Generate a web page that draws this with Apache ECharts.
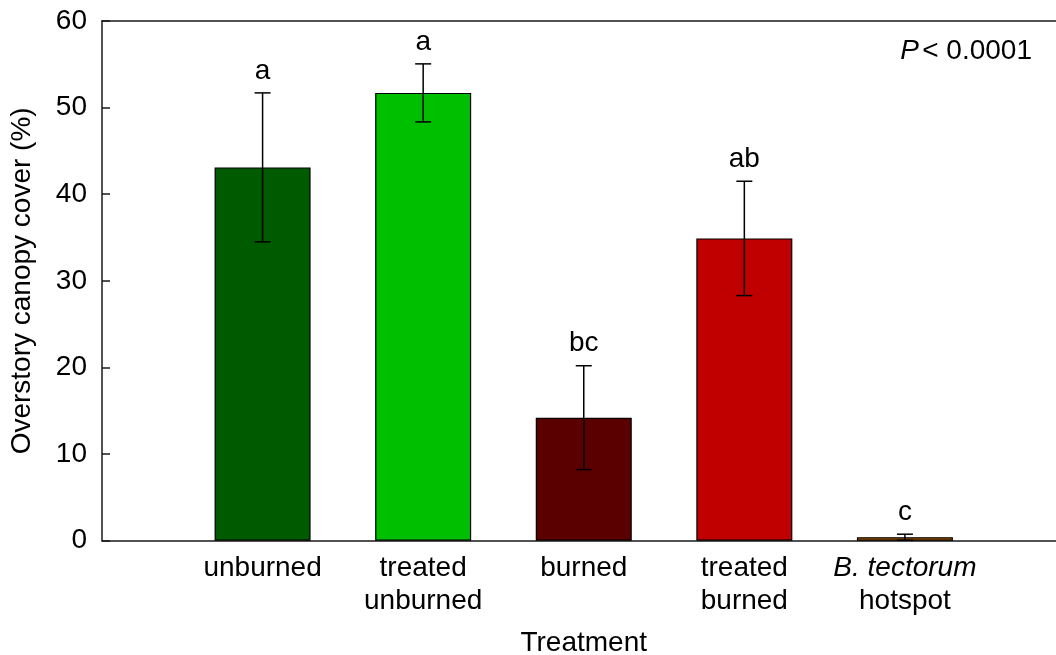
<!DOCTYPE html>
<html>
<head>
<meta charset="utf-8">
<script src="https://cdn.jsdelivr.net/npm/echarts@6/dist/echarts.min.js"></script>
<style>
  html, body { margin: 0; padding: 0; background: #fff; }
  #chart { width: 1056px; height: 655px; }
</style>
</head>
<body>
<div id="chart"></div>
<script>
// Overstory canopy cover by treatment (mean ± SE) with group letters
const categories = ['unburned', 'treated\nunburned', 'burned', 'treated\nburned', 'B. tectorum\nhotspot'];
const positions = [1, 2, 3, 4, 5];
const means = [43.1, 51.7, 14.2, 34.9, 0.4];
const errors = [8.6, 3.35, 6.0, 6.6, 0.35];
const letters = ['a', 'a', 'bc', 'ab', 'c'];
const colors = ['#005A00', '#00BE00', '#5A0000', '#C00000', '#C86400'];
const yTicks = [0, 10, 20, 30, 40, 50, 60];
const pValueText = 'P < 0.0001';

const FONT = '"Liberation Sans", Arial, sans-serif';
const FS = 28;
const AXIS_COLOR = '#1a1a1a';

const chart = echarts.init(document.getElementById('chart'), null, { renderer: 'canvas' });

const barData = positions.map((x, i) => ({
  value: [x, means[i]],
  itemStyle: { color: colors[i] }
}));
const errData = positions.map((x, i) => [x, means[i] - errors[i], means[i] + errors[i], i]);

function labelFormatter(v) {
  const idx = positions.indexOf(v);
  if (idx < 0) return '';
  const name = categories[idx];
  if (name.startsWith('B. tectorum')) {
    return '{it|B. tectorum}\n{n|hotspot}';
  }
  return name.split('\n').map(s => '{n|' + s + '}').join('\n');
}

const pParts = pValueText.split(' ');

chart.setOption({
  animation: false,
  backgroundColor: '#fff',
  textStyle: { fontFamily: FONT },
  grid: {
    left: 102, right: -9.5, top: 21, bottom: 114.3,
    containLabel: false,
    outerBoundsMode: 'none'
  },
  xAxis: [{
    type: 'value',
    min: 0, max: 6, interval: 1,
    position: 'bottom',
    axisLine: { show: true, lineStyle: { color: AXIS_COLOR, width: 1.5 } },
    axisTick: { show: false },
    splitLine: { show: false },
    axisLabel: {
      show: true,
      margin: 11,
      formatter: labelFormatter,
      showMinLabel: false,
      showMaxLabel: false,
      rich: {
        n: { fontSize: FS, fontFamily: FONT, color: '#000', lineHeight: 33 },
        it: { fontSize: FS, fontFamily: FONT, color: '#000', fontStyle: 'italic', lineHeight: 33 }
      }
    },
    name: 'Treatment',
    nameLocation: 'middle',
    nameGap: 89,
    nameTextStyle: { fontSize: FS, fontFamily: FONT, color: '#000' }
  }, {
    type: 'value',
    min: 0, max: 6,
    position: 'top',
    axisLine: { show: true, lineStyle: { color: AXIS_COLOR, width: 1.5 } },
    axisTick: { show: false },
    axisLabel: { show: false },
    splitLine: { show: false }
  }],
  yAxis: {
    type: 'value',
    min: yTicks[0], max: yTicks[yTicks.length - 1], interval: 10,
    axisLine: { show: true, lineStyle: { color: AXIS_COLOR, width: 1.5 } },
    axisTick: { show: true, inside: true, length: 8, lineStyle: { color: AXIS_COLOR, width: 1.5 } },
    splitLine: { show: false },
    axisLabel: { fontSize: FS, fontFamily: FONT, color: '#000', margin: 15 },
    name: 'Overstory canopy cover (%)',
    nameLocation: 'middle',
    nameGap: 66,
    nameTextStyle: { fontSize: FS, fontFamily: FONT, color: '#000' }
  },
  series: [{
    type: 'bar',
    xAxisIndex: 0,
    barWidth: 96,
    data: barData,
    itemStyle: { borderColor: '#000', borderWidth: 1.2 }
  }, {
    type: 'custom',
    xAxisIndex: 0,
    data: errData,
    z: 10,
    renderItem: function (params, api) {
      const x = api.value(0);
      const lo = api.coord([x, api.value(1)]);
      const hi = api.coord([x, api.value(2)]);
      const cap = 8;
      const style = { stroke: '#000', lineWidth: 1.5 };
      const idx = api.value(3);
      return {
        type: 'group',
        children: [
          { type: 'line', shape: { x1: hi[0], y1: hi[1], x2: lo[0], y2: lo[1] }, style: style },
          { type: 'line', shape: { x1: hi[0] - cap, y1: hi[1], x2: hi[0] + cap, y2: hi[1] }, style: style },
          { type: 'line', shape: { x1: lo[0] - cap, y1: lo[1], x2: lo[0] + cap, y2: lo[1] }, style: style },
          {
            type: 'text',
            x: hi[0], y: hi[1] - 8,
            style: {
              text: letters[idx],
              fontSize: FS, fontFamily: FONT, fill: '#000',
              textAlign: 'center', textVerticalAlign: 'bottom'
            }
          }
        ]
      };
    }
  }],
  graphic: [{
    type: 'text',
    right: 24,
    top: 37,
    style: {
      text: '{it|' + pParts[0] + '} {n|' + pParts.slice(1).join(' ') + '}',
      rich: {
        it: { fontSize: FS, fontFamily: FONT, fontStyle: 'italic', fill: '#000' },
        n: { fontSize: FS, fontFamily: FONT, fill: '#000' }
      }
    }
  }]
});
</script>
</body>
</html>
